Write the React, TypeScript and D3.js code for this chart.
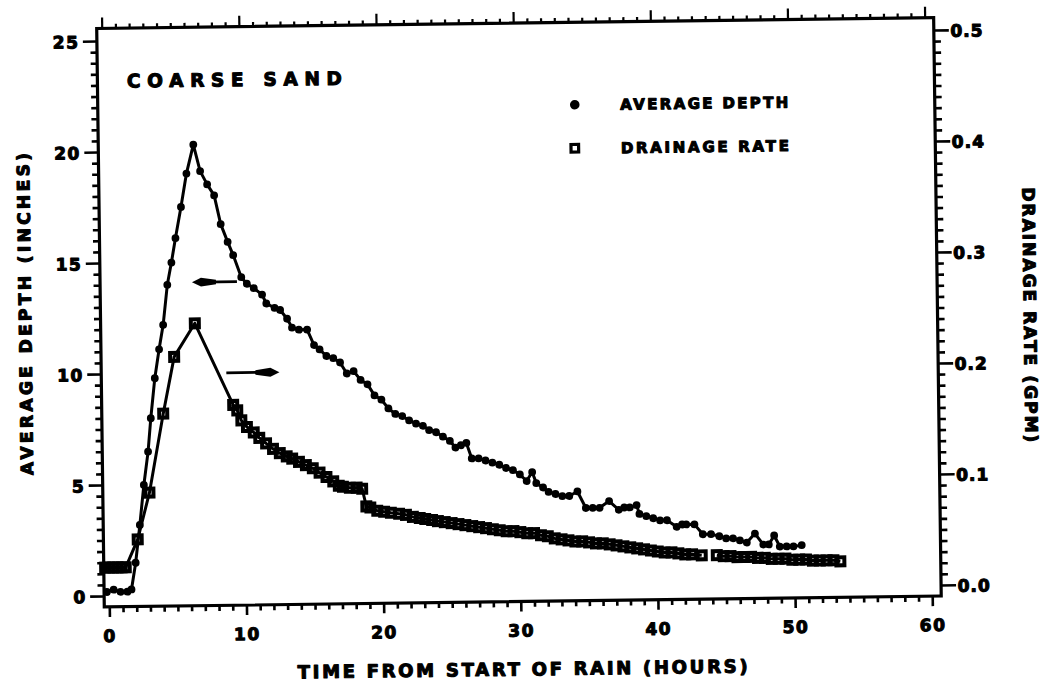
import React from "react";
import * as d3 from "d3";

// ---------- data ----------
const depthHours = [
  -0.2, 0.3, 0.8, 1.3, 1.6, 1.93, 2.27, 2.6, 2.94, 3.17,
  3.5, 3.84, 4.16, 4.5, 4.82, 5.14, 5.57, 6.0, 6.53, 7.0,
  7.5, 8.0, 8.45, 8.94, 9.33, 9.9, 10.3, 10.8, 11.4, 11.7,
  12.3, 12.7, 13.2, 13.55, 14.05, 14.65, 15.14, 15.54, 16.03, 16.53,
  17.02, 17.5, 18.0, 18.5, 19.0, 19.5, 20.0, 20.5, 21.0, 21.5,
  22.0, 22.5, 23.0, 23.45, 23.95, 24.45, 24.95, 25.35, 25.75, 26.15,
  26.53, 27.03, 27.53, 28.03, 28.53, 29.02, 29.52, 30.02, 30.51, 30.92,
  31.21, 31.7, 32.1, 32.6, 33.1, 33.6, 34.2, 34.8, 35.3, 35.8,
  36.5, 37.2, 37.6, 38.0, 38.5, 38.7, 39.2, 39.7, 40.2, 40.7,
  41.4, 41.8, 42.1, 42.7, 43.3, 43.9, 44.5, 45.0, 45.5, 46.0,
  46.5, 47.1, 47.7, 48.1, 48.5, 48.9, 49.4, 49.9, 50.5,
];
const depthInches = [
  0.2, 0.3, 0.2, 0.2, 0.3, 1.5, 3.2, 5.0, 6.5, 8.0,
  9.8, 11.1, 12.2, 14.0, 15.0, 16.1, 17.5, 19.0, 20.3, 19.1,
  18.5, 18.0, 16.7, 15.9, 15.3, 14.3, 14.0, 13.8, 13.5, 13.1,
  12.9, 12.8, 12.4, 12.0, 11.9, 11.9, 11.2, 11.0, 10.7, 10.6,
  10.4, 9.9, 10.0, 9.6, 9.4, 8.9, 8.7, 8.3, 8.05, 7.95,
  7.75, 7.6, 7.5, 7.3, 7.2, 7.0, 6.8, 6.5, 6.6, 6.7,
  6.0, 6.0, 5.9, 5.8, 5.7, 5.55, 5.45, 5.25, 4.95, 5.35,
  4.85, 4.65, 4.45, 4.35, 4.25, 4.25, 4.45, 3.7, 3.7, 3.7,
  4.0, 3.6, 3.7, 3.7, 3.8, 3.4, 3.3, 3.2, 3.1, 3.1,
  2.8, 2.9, 2.9, 2.9, 2.45, 2.45, 2.35, 2.25, 2.25, 2.15,
  2.05, 2.45, 1.95, 1.95, 2.35, 1.85, 1.85, 1.85, 1.9,
];

const rateHours = [
  -0.3, 0.0, 0.3, 0.6, 0.9, 1.2, 2.1, 3.0, 4.08, 4.93,
  6.47, 9.19, 9.48, 9.77, 10.17, 10.66, 11.06, 11.55, 12.05, 12.54,
  13.04, 13.44, 13.93, 14.43, 14.93, 15.42, 15.92, 16.41, 16.81, 17.11,
  17.61, 18.11, 18.51, 18.8, 19.09, 19.59, 20.09, 20.58, 21.18, 21.68,
  22.18, 22.68, 23.08, 23.58, 24.0, 24.5, 25.0, 25.5, 26.0, 26.5,
  27.0, 27.5, 28.0, 28.5, 29.0, 29.5, 30.0, 30.5, 31.0, 31.5,
  32.0, 32.5, 33.0, 33.5, 34.0, 34.5, 35.0, 35.5, 36.0, 36.5,
  37.0, 37.5, 38.0, 38.5, 39.0, 39.5, 40.0, 40.5, 41.0, 41.5,
  42.0, 42.5, 43.2, 43.75, 44.3, 44.8, 45.3, 45.8, 46.3, 46.8,
  47.3, 47.8, 48.3, 48.8, 49.3, 49.8, 50.3, 50.8, 51.3, 51.8, 52.3, 52.8, 53.3,
];
const rateGpm: (number | null)[] = [
  0.026, 0.026, 0.026, 0.026, 0.026, 0.026, 0.051, 0.093, 0.164, 0.215,
  0.245, 0.171, 0.166, 0.157, 0.151, 0.146, 0.141, 0.136, 0.131, 0.127,
  0.124, 0.122, 0.119, 0.116, 0.113, 0.109, 0.105, 0.101, 0.097, 0.096,
  0.095, 0.095, 0.094, 0.078, 0.077, 0.074, 0.073, 0.072, 0.071, 0.07,
  0.068, 0.067, 0.066, 0.065, 0.064, 0.063, 0.062, 0.061, 0.06, 0.059,
  0.058, 0.057, 0.056, 0.055, 0.054, 0.054, 0.053, 0.052, 0.052, 0.05,
  0.049, 0.047, 0.046, 0.045, 0.044, 0.044, 0.043, 0.042, 0.042, 0.041,
  0.04, 0.039, 0.038, 0.037, 0.036, 0.035, 0.034, 0.033, 0.033, 0.032,
  0.031, 0.031, 0.03, null, 0.03, 0.029, 0.029, 0.028, 0.028, 0.028,
  0.027, 0.027, 0.026, 0.026, 0.026, 0.025, 0.025, 0.025, 0.024, 0.024, 0.024, 0.024, 0.023,
];

const xTickValues = [0, 10, 20, 30, 40, 50, 60];
const leftTickValues = [0, 5, 10, 15, 20, 25];
const rightTickValues = [0.0, 0.1, 0.2, 0.3, 0.4, 0.5];

const titleText = "COARSE SAND";
const legendLabels = ["AVERAGE DEPTH", "DRAINAGE RATE"];
const xAxisTitle = "TIME FROM START OF RAIN (HOURS)";
const leftAxisTitle = "AVERAGE DEPTH (INCHES)";
const rightAxisTitle = "DRAINAGE RATE (GPM)";

// annotation arrows: [level, tail hour, head hour]
const depthArrow = [14.1, 9.58, 6.3];
const rateArrow = [0.2, 8.72, 12.59];

// ---------- layout ----------
const W = 1044;
const H = 686;
const FRAME = { left: 100.5, right: 937.5, top: 23, bottom: 601.5 };
const FONT = "'DejaVu Sans', 'Liberation Sans', Arial, sans-serif";

export default function App() {
  const x = d3.scaleLinear().domain([0, 60]).range([106, 929]);
  const yL = d3.scaleLinear().domain([0, 25]).range([591, 36]);
  const yR = d3.scaleLinear().domain([0, 0.5]).range([591, 36]);

  const depthPts = depthHours.map((t, i) => ({ t, v: depthInches[i] }));
  const ratePts = rateHours.map((t, i) => ({ t, v: rateGpm[i] }));

  const depthLine = d3
    .line<{ t: number; v: number }>()
    .x((d) => x(d.t))
    .y((d) => yL(d.v))(depthPts);
  const rateLine = d3
    .line<{ t: number; v: number | null }>()
    .defined((d) => d.v != null)
    .x((d) => x(d.t))
    .y((d) => yR(d.v as number))(ratePts);

  const xMinor = d3.range(0, 61, 1);
  const leftMinor = d3.range(0, 25.01, 0.5);
  const rightMinor = d3.range(0, 0.5001, 0.01);

  const textStyle = {
    fontFamily: FONT,
    fontWeight: 700,
    fill: "#000",
    stroke: "#000",
    strokeWidth: 1.1,
    strokeLinejoin: "round",
  } as const;

  const sq = 8;

  const dA = { y: yL(depthArrow[0]), tail: x(depthArrow[1]), head: x(depthArrow[2]) };
  const rA = { y: yR(rateArrow[0]), tail: x(rateArrow[1]), head: x(rateArrow[2]) };
  const headPath = (tip: number, y: number, dir: number) =>
    `M${tip},${y} L${tip + dir * 9},${y - 4.4} L${tip + dir * 24},${y - 2.2} L${tip + dir * 24},${y + 2.2} L${tip + dir * 9},${y + 4.4} Z`;

  return (
    <svg
      width={W}
      height={H}
      style={{ position: "absolute", left: 0, top: 0, display: "block", background: "#fff" }}
    >
      <rect x={0} y={0} width={W} height={H} fill="#fff" />
      <g transform="rotate(-0.75, 520, 315)">
        {/* frame */}
        <rect
          x={FRAME.left}
          y={FRAME.top}
          width={FRAME.right - FRAME.left}
          height={FRAME.bottom - FRAME.top}
          fill="none"
          stroke="#000"
          strokeWidth={3.2}
        />
        {/* bottom & top ticks */}
        {xMinor.map((t) => {
          const major = t % 10 === 0;
          return (
            <g key={"xt" + t}>
              <line x1={x(t)} x2={x(t)} y1={FRAME.bottom} y2={FRAME.bottom + (major ? 10 : 5.5)} stroke="#000" strokeWidth={2.6} />
              <line x1={x(t)} x2={x(t)} y1={FRAME.top} y2={FRAME.top - (major ? 11 : 4.5)} stroke="#000" strokeWidth={2.2} />
            </g>
          );
        })}
        {xTickValues.map((t) => (
          <text key={"xl" + t} x={x(t)} y={630 + 6.5} textAnchor="middle" fontSize={17} letterSpacing={1.5} style={textStyle}>
            {t}
          </text>
        ))}
        {/* left ticks */}
        {leftMinor.map((v) => {
          const major = Math.abs(v % 5) < 1e-6;
          return (
            <line key={"lt" + v} x1={FRAME.left} x2={FRAME.left - (major ? 14 : 6.5)} y1={yL(v)} y2={yL(v)} stroke="#000" strokeWidth={2.6} />
          );
        })}
        {leftTickValues.map((v) => (
          <text key={"ll" + v} x={83} y={yL(v) + 6.5} textAnchor="end" fontSize={17} letterSpacing={1.5} style={textStyle}>
            {v}
          </text>
        ))}
        {/* right ticks */}
        {rightMinor.map((v, i) => {
          const major = i % 10 === 0;
          return (
            <line key={"rt" + i} x1={FRAME.right} x2={FRAME.right + (major ? 15 : 7)} y1={yR(v)} y2={yR(v)} stroke="#000" strokeWidth={2.6} />
          );
        })}
        {rightTickValues.map((v) => (
          <text key={"rl" + v} x={954} y={yR(v) + 6.5} textAnchor="start" fontSize={17} letterSpacing={1} style={textStyle}>
            {v.toFixed(1)}
          </text>
        ))}

        {/* axis titles */}
        <text
          x={518}
          y={669 + 6.5}
          textAnchor="middle"
          fontSize={18}
          textLength={450}
          lengthAdjust="spacing"
          style={textStyle}
        >
          {xAxisTitle}
        </text>
        <g transform={`translate(${25 + 6.2}, 307.5) rotate(-90)`}>
          <text x={0} y={0} textAnchor="middle" fontSize={17} textLength={322} lengthAdjust="spacing" style={textStyle}>
            {leftAxisTitle}
          </text>
        </g>
        <g transform={`translate(${1030 - 6.2}, 321.5) rotate(90)`}>
          <text x={0} y={0} textAnchor="middle" fontSize={17} textLength={255} lengthAdjust="spacing" style={textStyle}>
            {rightAxisTitle}
          </text>
        </g>

        {/* title */}
        <text x={130} y={82.5} fontSize={18.5} textLength={215} lengthAdjust="spacing" style={textStyle}>
          {titleText}
        </text>

        {/* legend */}
        <circle cx={577.5} cy={105.5} r={4.8} fill="#000" />
        <text x={623} y={105.5 + 5.5} fontSize={15} textLength={168} lengthAdjust="spacing" style={textStyle}>
          {legendLabels[0]}
        </text>
        <rect x={577 - 3.8} y={149 - 3.8} width={7.6} height={7.6} fill="none" stroke="#000" strokeWidth={3.2} />
        <text x={623} y={149 + 5.5} fontSize={15} textLength={168} lengthAdjust="spacing" style={textStyle}>
          {legendLabels[1]}
        </text>

        {/* drainage rate series */}
        <path d={rateLine || ""} fill="none" stroke="#000" strokeWidth={3} strokeLinejoin="round" />
        {ratePts
          .filter((d) => d.v != null)
          .map((d, i) => (
            <rect
              key={"rs" + i}
              x={x(d.t) - sq / 2}
              y={yR(d.v as number) - sq / 2}
              width={sq}
              height={sq}
              fill="none"
              stroke="#000"
              strokeWidth={4}
            />
          ))}

        {/* depth series */}
        <path d={depthLine || ""} fill="none" stroke="#000" strokeWidth={3} strokeLinejoin="round" />
        {depthPts.map((d, i) => (
          <circle key={"ds" + i} cx={x(d.t)} cy={yL(d.v)} r={3.9} fill="#000" />
        ))}

        {/* arrows */}
        <line x1={dA.tail} x2={dA.head + 10} y1={dA.y} y2={dA.y} stroke="#000" strokeWidth={2.8} />
        <path d={headPath(dA.head, dA.y, 1)} fill="#000" />
        <line x1={rA.tail} x2={rA.head - 10} y1={rA.y} y2={rA.y} stroke="#000" strokeWidth={2.8} />
        <path d={headPath(rA.head, rA.y, -1)} fill="#000" />
      </g>
    </svg>
  );
}
